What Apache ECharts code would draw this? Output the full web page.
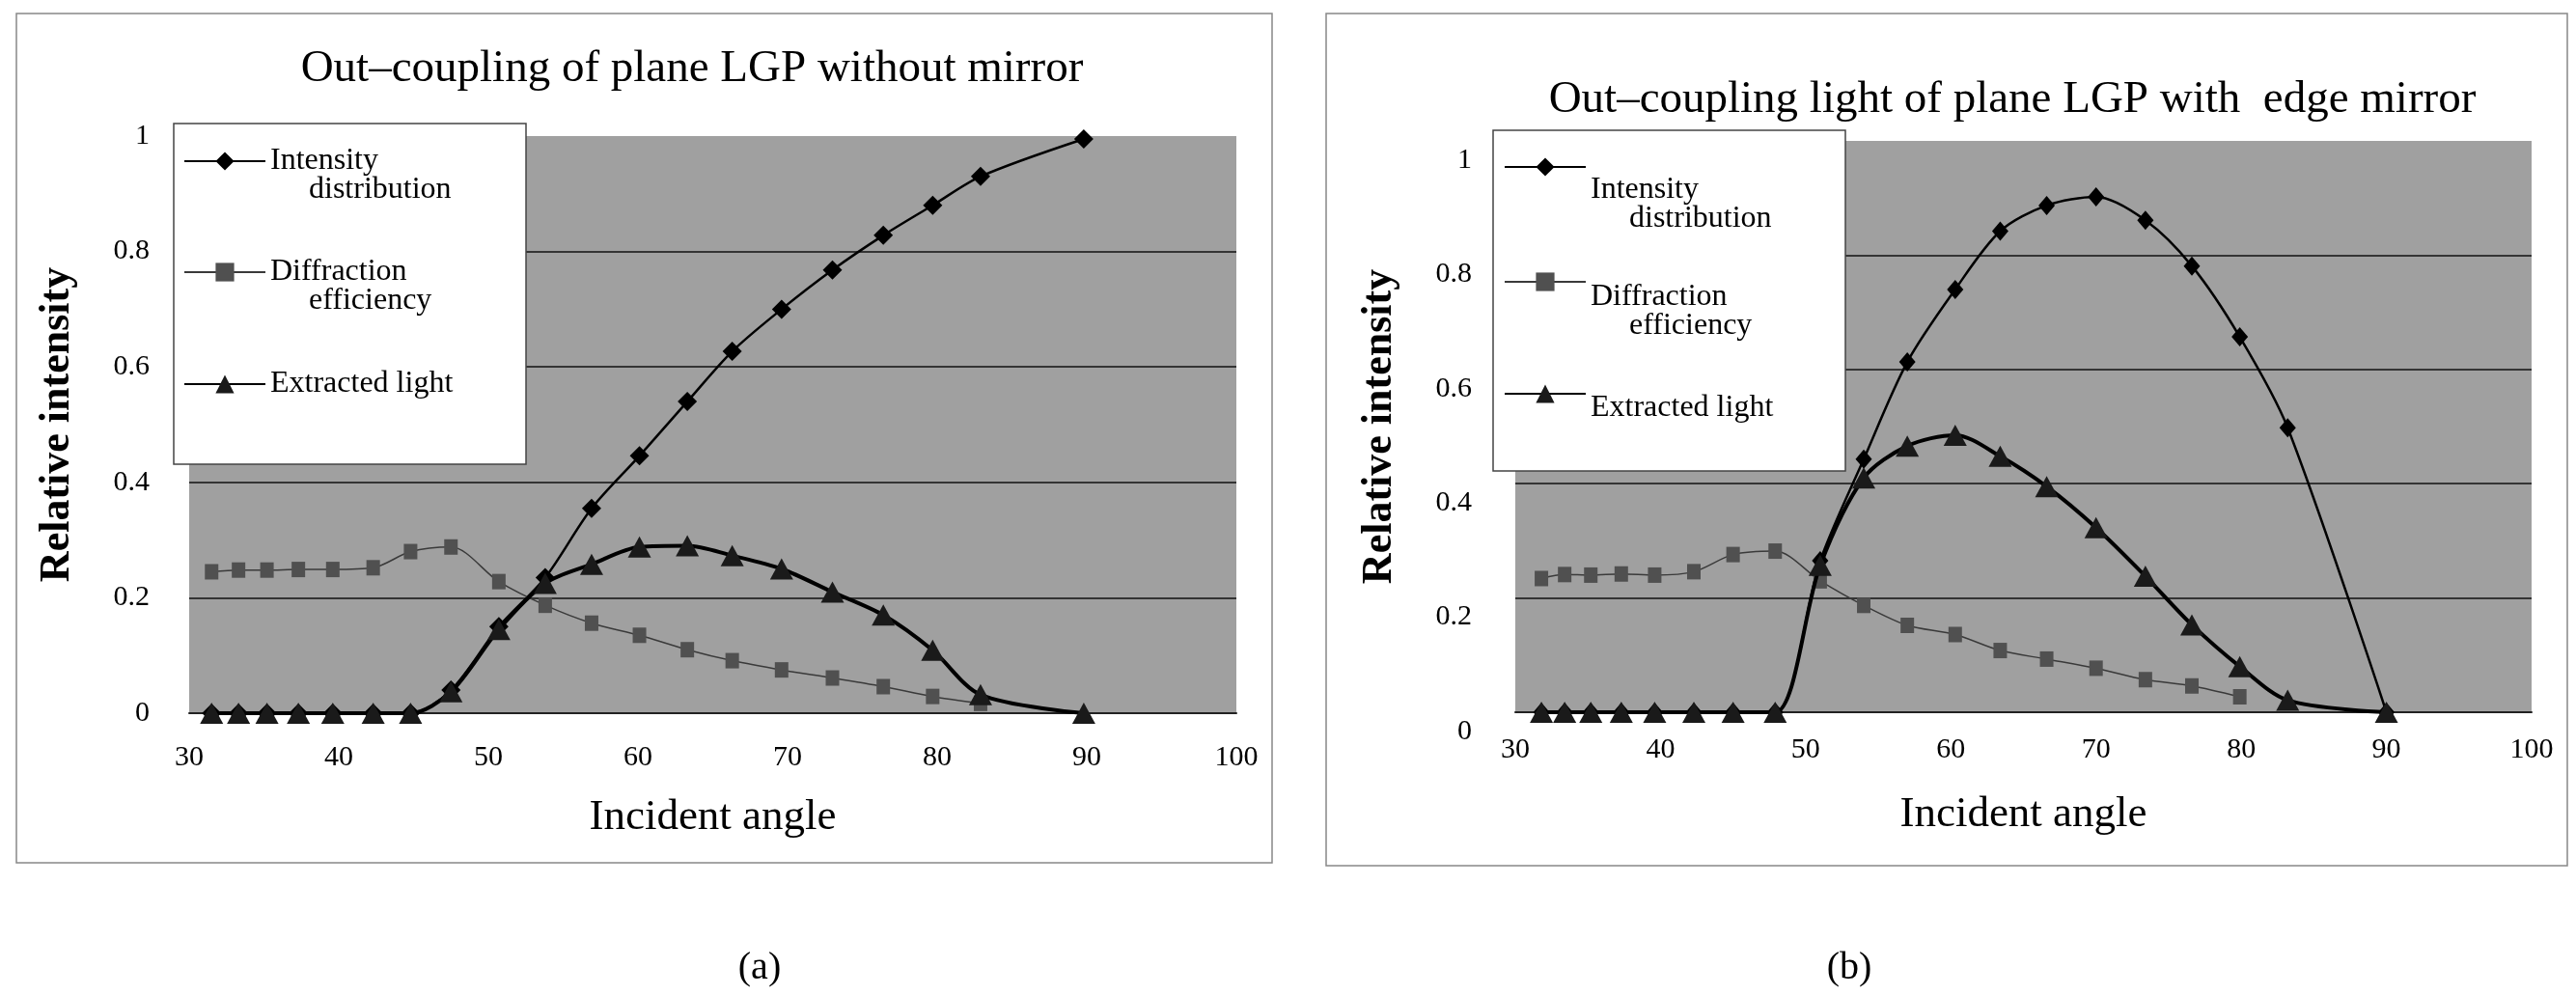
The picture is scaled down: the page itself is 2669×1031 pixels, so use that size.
<!DOCTYPE html>
<html><head><meta charset="utf-8">
<script src="https://cdn.jsdelivr.net/npm/echarts@6/dist/echarts.min.js"></script>
<style>html,body{margin:0;padding:0;background:#fff}#chart{width:2669px;height:1031px}</style>
</head><body><div id="chart"></div>
<script>
// ---- Data ----
const anglesA = [31.5, 33.3, 35.2, 37.3, 39.6, 42.3, 44.8, 47.5, 50.7, 53.8, 56.9, 60.1, 63.3, 66.3, 69.6, 73.0, 76.4, 79.7, 82.9, 89.8];
const intensityA = [0, 0, 0, 0, 0, 0, 0, 0.04, 0.15, 0.235, 0.355, 0.446, 0.54, 0.627, 0.70, 0.768, 0.828, 0.88, 0.93, 0.995];
const diffractionA = [0.245, 0.248, 0.248, 0.249, 0.249, 0.252, 0.28, 0.288, 0.228, 0.187, 0.156, 0.135, 0.11, 0.091, 0.075, 0.061, 0.046, 0.029, 0.017];
const extractedA = [0, 0, 0, 0, 0, 0, 0, 0.037, 0.145, 0.225, 0.258, 0.288, 0.29, 0.273, 0.25, 0.21, 0.17, 0.109, 0.032, 0];

const anglesB = [31.8, 33.4, 35.2, 37.3, 39.6, 42.3, 45.0, 47.9, 51.0, 54.0, 57.0, 60.3, 63.4, 66.6, 70.0, 73.4, 76.6, 79.9, 83.2, 90.0];
const intensityB = [0, 0, 0, 0, 0, 0, 0, 0, 0.265, 0.443, 0.613, 0.74, 0.842, 0.887, 0.902, 0.861, 0.781, 0.657, 0.498, 0];
const diffractionB = [0.234, 0.241, 0.24, 0.242, 0.24, 0.246, 0.276, 0.282, 0.23, 0.187, 0.152, 0.136, 0.108, 0.093, 0.077, 0.057, 0.046, 0.027];
const extractedB = [0, 0, 0, 0, 0, 0, 0, 0, 0.257, 0.41, 0.466, 0.485, 0.448, 0.395, 0.323, 0.238, 0.153, 0.08, 0.021, 0];

const titleA = 'Out\u2013coupling of plane LGP without mirror';
const titleB = 'Out\u2013coupling light of plane LGP with  edge mirror';
const seriesNames = ['Intensity distribution', 'Diffraction efficiency', 'Extracted light'];
const legendLines = {
  'Intensity distribution': ['Intensity', '     distribution'],
  'Diffraction efficiency': ['Diffraction', '     efficiency'],
  'Extracted light': ['Extracted light']
};
const xName = 'Incident angle';
const yName = 'Relative intensity';
const panelLabels = ['(a)', '(b)'];

// ---- Build chart ----
const FONT = "'Liberation Serif', 'Times New Roman', serif";
const pairs = (xs, ys) => ys.map((v, i) => [xs[i], v]);

function seriesFor(gi, xs, inten, diff, extr, diamondSize) {
  return [
    { name: seriesNames[0], type: 'line', xAxisIndex: gi, yAxisIndex: gi, data: pairs(xs, inten),
      smooth: 0.3, symbol: 'diamond', symbolSize: diamondSize,
      itemStyle: { color: '#000' }, lineStyle: { color: '#000', width: 2.5 }, z: 2 },
    { name: seriesNames[1], type: 'line', xAxisIndex: gi, yAxisIndex: gi, data: pairs(xs, diff),
      smooth: 0.3, symbol: 'rect', symbolSize: [14, 16],
      itemStyle: { color: '#505050' }, lineStyle: { color: '#3a3a3a', width: 1.5 }, z: 3 },
    { name: seriesNames[2], type: 'line', xAxisIndex: gi, yAxisIndex: gi, data: pairs(xs, extr),
      smooth: 0.3, symbol: 'triangle', symbolSize: [24, 22],
      itemStyle: { color: '#1a1a1a' }, lineStyle: { color: '#000', width: 4 }, z: 4 }
  ];
}

function xAxisFor(gi, nameGap, margin) {
  return { gridIndex: gi, type: 'value', min: 30, max: 100, interval: 10,
    name: xName, nameLocation: 'middle', nameGap: nameGap,
    nameTextStyle: { fontFamily: FONT, fontSize: 45, lineHeight: 45, color: '#000' },
    axisLine: { show: true, lineStyle: { color: '#222', width: 2 } },
    axisTick: { show: false },
    axisLabel: { margin: margin, fontFamily: FONT, fontSize: 30, lineHeight: 30, color: '#000' },
    splitLine: { show: false } };
}
function yAxisFor(gi, nameGap, margin, vAlign, lh) {
  return { gridIndex: gi, type: 'value', min: 0, max: 1, interval: 0.2,
    name: yName, nameLocation: 'middle', nameRotate: 90, nameGap: nameGap,
    nameTextStyle: { fontFamily: FONT, fontSize: 44, lineHeight: 44, fontWeight: 'bold', color: '#000' },
    axisLine: { show: false }, axisTick: { show: false },
    axisLabel: { margin: margin, fontFamily: FONT, fontSize: 30, lineHeight: lh, color: '#000', verticalAlign: vAlign },
    splitLine: { show: true, showMaxLine: false, showMinLine: false, lineStyle: { color: '#111', width: 1.5 } } };
}

function legendFor(name, left, top, spacer) {
  return { data: [name], left: left, top: top, orient: 'vertical', padding: 0,
    itemWidth: 84, itemHeight: 24, selectedMode: false, z: 6,
    formatter: n => (spacer ? '{s| }\n' : '') + legendLines[n].map(l => '{t|' + l + '}').join('\n'),
    textStyle: { fontFamily: FONT, fontSize: 32, lineHeight: 30, color: '#000',
      rich: {
        s: { fontSize: 2, lineHeight: spacer || 1 },
        t: { fontFamily: FONT, fontSize: 32, lineHeight: 30, color: '#000' }
      } } };
}

const option = {
  animation: false,
  backgroundColor: '#fff',
  title: [
    { text: titleA, left: 717, top: 48, textAlign: 'center', padding: 0,
      textStyle: { fontFamily: FONT, fontSize: 47, lineHeight: 47, fontWeight: 'normal', color: '#000' } },
    { text: titleB, left: 2085, top: 80, textAlign: 'center', padding: 0,
      textStyle: { fontFamily: FONT, fontSize: 47, lineHeight: 47, fontWeight: 'normal', color: '#000' } },
    { text: panelLabels[0], left: 787, top: 983, textAlign: 'center', padding: 0,
      textStyle: { fontFamily: FONT, fontSize: 40, lineHeight: 40, fontWeight: 'normal', color: '#000' } },
    { text: panelLabels[1], left: 1916, top: 983, textAlign: 'center', padding: 0,
      textStyle: { fontFamily: FONT, fontSize: 40, lineHeight: 40, fontWeight: 'normal', color: '#000' } }
  ],
  grid: [
    { left: 196, top: 141, width: 1085, height: 598, show: true, backgroundColor: '#a0a0a0', borderWidth: 0 },
    { left: 1570, top: 146, width: 1053, height: 592, show: true, backgroundColor: '#a0a0a0', borderWidth: 0 }
  ],
  xAxis: [ xAxisFor(0, 86, 31), xAxisFor(1, 84, 24) ],
  yAxis: [ yAxisFor(0, 114, 41, 'middle', 30), yAxisFor(1, 118, 45, 'top', 40) ],
  legend: [
    legendFor(seriesNames[0], 190, 122, 30),
    legendFor(seriesNames[1], 190, 237, 30),
    legendFor(seriesNames[2], 190, 382, 0),
    legendFor(seriesNames[0], 1558, 104, 78),
    legendFor(seriesNames[1], 1558, 231, 62),
    legendFor(seriesNames[2], 1558, 378, 30)
  ],
  graphic: [
    { type: 'rect', z: 0, shape: { x: 17, y: 14, width: 1301, height: 880 },
      style: { fill: 'none', stroke: '#888', lineWidth: 1.5 } },
    { type: 'rect', z: 0, shape: { x: 1374, y: 14, width: 1286, height: 883 },
      style: { fill: 'none', stroke: '#888', lineWidth: 1.5 } },
    { type: 'rect', z: 5, shape: { x: 180, y: 128, width: 365, height: 353 },
      style: { fill: '#fff', stroke: '#444', lineWidth: 1.5 } },
    { type: 'rect', z: 5, shape: { x: 1547, y: 135, width: 365, height: 353 },
      style: { fill: '#fff', stroke: '#444', lineWidth: 1.5 } }
  ],
  series: [].concat(
    seriesFor(0, anglesA, intensityA, diffractionA, extractedA, 20),
    seriesFor(1, anglesB, intensityB, diffractionB, extractedB, [17, 20])
  )
};

const chart = echarts.init(document.getElementById('chart'), null, { renderer: 'canvas' });
chart.setOption(option);
</script></body></html>
